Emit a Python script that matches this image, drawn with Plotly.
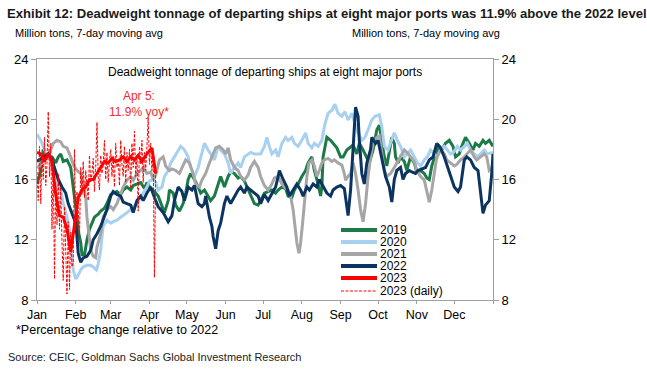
import pandas as pd
import plotly.graph_objects as go

# ---------------- data ----------------
days_2019 = [0, 3, 5, 8, 12, 15, 17, 19, 21, 24, 27, 28, 29, 31, 32, 33, 35, 36, 38, 40, 42, 46, 49, 51, 54, 56, 59, 61, 64, 67, 69, 72, 75, 77, 80, 83, 86, 88, 91, 94, 97, 99, 102, 105, 106, 109, 111, 114, 117, 119, 121, 123, 126, 129, 131, 134, 137, 139, 142, 145, 147, 150, 153, 155, 158, 161, 163, 166, 169, 171, 174, 177, 179, 182, 185, 188, 191, 193, 196, 199, 201, 204, 206, 209, 212, 215, 217, 220, 222, 225, 227, 228, 229, 231, 232, 235, 237, 240, 243, 245, 248, 251, 253, 256, 258, 261, 264, 266, 269, 272, 274, 276, 278, 280, 282, 284, 286, 287, 289, 291, 294, 296, 299, 302, 304, 307, 310, 312, 314, 316, 319, 322, 324, 327, 330, 333, 335, 338, 340, 343, 346, 349, 351, 354, 357, 359, 362, 365]
tons_2019 = [15.7, 16.6, 18.0, 17.5, 17.5, 17.1, 17.5, 17.7, 17.2, 17.3, 16.8, 16.2, 15.3, 14.4, 13.5, 12.6, 11.8, 11.0, 11.0, 12.0, 12.7, 13.5, 13.7, 13.9, 14.1, 14.4, 15.0, 15.1, 15.2, 15.0, 15.3, 15.5, 15.3, 15.6, 15.7, 15.8, 15.4, 15.8, 15.4, 15.2, 14.9, 14.4, 13.8, 14.6, 15.3, 15.1, 14.3, 13.9, 14.4, 15.1, 16.0, 16.4, 16.0, 15.5, 15.1, 15.3, 14.9, 14.6, 14.9, 15.7, 16.2, 15.5, 16.2, 16.5, 16.4, 16.1, 16.2, 15.9, 15.3, 14.9, 14.4, 14.3, 14.6, 15.1, 15.2, 15.3, 15.1, 15.3, 15.5, 15.4, 14.9, 14.8, 15.3, 15.7, 16.2, 16.6, 17.1, 17.5, 16.6, 15.7, 14.9, 15.5, 17.5, 18.4, 18.8, 18.6, 18.4, 18.1, 17.5, 17.5, 17.96, 18.2, 18.3, 17.7, 18.4, 17.96, 17.5, 17.1, 17.96, 19.3, 19.6, 18.6, 17.5, 16.9, 18.0, 18.8, 18.4, 17.5, 17.1, 17.5, 17.2, 16.6, 17.5, 17.1, 16.5, 16.6, 16.4, 16.1, 16.0, 16.9, 17.7, 18.2, 17.96, 18.4, 18.6, 18.2, 17.5, 17.7, 18.2, 18.8, 18.4, 17.96, 18.4, 18.2, 18.6, 18.4, 18.6, 18.2]

days_2020 = [0, 3, 5, 8, 11, 13, 16, 19, 21, 24, 27, 28, 29, 31, 32, 35, 37, 40, 43, 45, 47.5, 49, 51, 52, 53, 56, 59, 61, 64, 67, 69, 72, 75, 77, 80, 83, 85, 88, 90, 93, 95, 97, 100, 102, 105, 107, 110, 113, 115, 118, 121, 123, 126, 129, 131, 134, 137, 139, 142, 145, 147, 150, 153, 155, 158, 161, 163, 166, 169, 171, 174, 177, 179, 182, 184, 186, 188, 191, 193, 196, 199, 201, 204, 206, 209, 212, 215, 217, 220, 222, 225, 228, 230.5, 233, 236, 238.5, 241, 244, 246.5, 249, 252, 254.5, 257, 260, 262.5, 265, 268, 270.5, 274, 276, 278, 281, 283, 286, 288.5, 291, 294, 296.5, 299, 302, 304.5, 307, 310, 312.5, 315, 318, 320.5, 323, 326, 328.5, 331, 333.5, 336.5, 339, 342, 344.5, 347, 350, 352.5, 355, 358, 360.5, 365]
tons_2020 = [19.0, 18.6, 18.2, 17.5, 17.3, 16.6, 16.0, 15.3, 14.4, 13.5, 12.2, 11.1, 10.0, 9.4, 9.5, 10.0, 10.2, 10.3, 10.3, 10.2, 10.0, 10.4, 11.3, 12.2, 12.9, 13.3, 13.1, 13.2, 13.3, 13.5, 13.6, 13.8, 14.0, 14.2, 14.4, 14.8, 15.1, 15.5, 15.9, 16.0, 15.8, 15.3, 15.5, 16.2, 16.6, 17.1, 17.5, 17.96, 18.2, 17.96, 17.5, 16.8, 16.2, 16.8, 17.5, 18.4, 17.96, 17.7, 17.3, 18.2, 17.96, 17.7, 17.1, 16.4, 16.8, 17.1, 16.8, 17.5, 17.7, 17.8, 17.7, 17.7, 17.7, 18.2, 18.8, 18.2, 17.7, 17.96, 17.5, 18.4, 18.8, 18.6, 18.8, 18.4, 18.2, 18.6, 19.1, 18.4, 18.1, 18.4, 18.2, 18.6, 19.7, 20.4, 20.6, 21.0, 20.4, 20.2, 20.5, 19.95, 20.4, 19.7, 19.1, 18.6, 18.8, 19.3, 19.95, 20.2, 20.3, 19.5, 18.2, 17.96, 18.4, 19.1, 18.6, 18.2, 17.5, 17.7, 17.96, 17.5, 17.1, 16.9, 17.3, 17.5, 17.96, 17.7, 17.5, 17.96, 18.2, 17.96, 17.7, 17.8, 18.2, 17.96, 18.2, 18.4, 17.96, 17.7, 17.5, 17.7, 17.96, 17.7, 17.8]

days_2021 = [0, 3, 5, 8, 11, 13, 16, 19, 21, 24, 27, 29, 32, 35, 37, 39, 40, 42, 43, 45, 47, 48, 51, 53, 56, 59, 61, 64, 67, 69, 72, 75, 77, 80, 83, 85, 88, 91, 93, 95, 98, 101, 103, 106, 108, 111, 114, 116, 119, 122, 125, 127, 130, 132, 135, 138, 141, 143, 146, 149, 151, 153, 155, 158, 161, 163, 166, 169, 171, 174, 177, 179, 182, 185, 188, 190, 193, 196, 198, 201, 203, 205, 206.5, 208, 209.7, 211, 212.6, 214, 216, 217.7, 220, 222, 224, 226, 228, 230, 233, 236, 238, 241, 244, 246, 247, 249, 251, 253, 255, 257, 259, 261, 263, 265, 267, 269, 272, 274, 276, 278, 280, 283, 286, 288, 291, 294, 296, 299, 302, 304, 307, 310, 312, 314, 316, 318, 320, 323, 326, 328, 331, 334, 336, 339, 342, 344, 347, 350, 352, 355, 358, 360, 362, 365]
tons_2021 = [16.8, 16.9, 17.3, 17.5, 17.96, 18.4, 18.6, 18.5, 18.2, 18.1, 17.5, 17.0, 16.6, 16.4, 15.7, 14.8, 13.5, 12.2, 11.3, 10.9, 10.8, 11.5, 12.4, 13.5, 14.0, 14.2, 14.0, 14.4, 15.1, 15.5, 15.96, 16.2, 15.96, 16.4, 16.6, 16.8, 16.4, 16.5, 16.0, 16.3, 17.3, 17.5, 16.9, 16.6, 16.7, 16.6, 16.4, 16.8, 17.3, 17.1, 16.4, 15.7, 15.5, 15.96, 16.4, 17.1, 17.7, 18.1, 18.2, 17.96, 17.7, 18.1, 17.3, 16.8, 16.6, 16.2, 15.96, 16.3, 16.8, 17.2, 16.8, 16.2, 15.6, 15.3, 15.7, 16.1, 16.2, 15.7, 15.5, 15.3, 14.9, 14.0, 12.9, 11.8, 11.1, 11.8, 13.1, 14.6, 16.2, 17.1, 17.3, 16.9, 16.2, 16.6, 17.1, 17.3, 17.4, 17.2, 17.3, 17.1, 16.96, 16.4, 15.96, 16.2, 16.4, 17.1, 16.4, 15.3, 14.0, 13.2, 14.4, 16.2, 17.5, 18.4, 18.8, 18.9, 17.7, 16.6, 16.2, 16.4, 16.8, 17.1, 17.5, 17.96, 17.8, 17.5, 17.2, 16.6, 16.2, 15.96, 15.3, 14.5, 15.3, 16.4, 17.5, 17.96, 17.7, 17.3, 17.1, 16.9, 17.0, 17.3, 17.5, 17.7, 17.96, 17.5, 17.3, 17.5, 17.7, 17.5, 16.6, 16.8]

days_2022 = [0, 5, 9, 12, 15, 17, 20, 23, 25, 28, 31, 32, 33, 35, 37, 40, 43, 45, 48, 51, 53, 56, 59, 61, 64, 67, 69, 72, 75, 77, 80, 83, 85, 88, 91, 94, 97, 101, 105, 108, 110, 113, 116, 118, 121, 124, 126, 129, 132, 134, 135, 138, 140, 141, 143, 145, 147, 150, 152, 155, 158, 161, 163, 166, 168, 171, 174, 177, 179, 182, 185, 188, 191, 193, 194, 197, 200, 202, 205, 208, 211, 213, 216, 218, 221, 224, 226, 229, 232, 235, 237, 240, 243, 246, 248, 249, 251, 253, 255, 257, 258, 260, 262, 264, 267, 268, 271, 273, 276, 279, 282, 284, 286, 288, 291, 293, 295, 298, 300, 303, 305, 308, 311, 314, 317, 320, 323, 326, 329, 331, 334, 337, 339, 342, 344, 347, 350, 353, 355, 357, 359, 362, 364, 365]
tons_2022 = [17.2, 17.5, 17.7, 17.3, 16.6, 16.0, 15.5, 15.1, 14.4, 13.8, 13.1, 12.2, 11.1, 10.5, 10.8, 10.9, 11.3, 12.0, 12.4, 12.9, 13.3, 14.0, 14.9, 15.2, 15.0, 14.9, 14.5, 14.4, 14.3, 13.8, 14.6, 14.9, 14.6, 15.1, 15.5, 14.8, 14.2, 13.8, 13.2, 13.6, 14.6, 15.5, 15.2, 14.6, 15.5, 15.3, 15.6, 14.4, 14.2, 14.4, 14.9, 13.5, 12.9, 12.2, 11.4, 12.6, 13.1, 14.4, 14.9, 14.4, 14.9, 15.3, 15.5, 15.1, 15.5, 15.3, 15.1, 14.9, 14.4, 15.0, 14.6, 15.1, 15.5, 16.2, 16.6, 16.0, 15.5, 14.9, 15.3, 15.7, 15.3, 14.9, 15.5, 15.3, 15.7, 15.5, 16.0, 15.5, 15.1, 14.9, 15.3, 15.5, 15.6, 15.4, 14.2, 13.6, 15.3, 17.96, 20.8, 20.2, 18.6, 16.4, 15.7, 17.1, 18.0, 18.8, 18.4, 18.6, 17.5, 16.2, 15.5, 14.5, 16.0, 16.6, 16.8, 16.0, 16.4, 16.6, 16.5, 16.4, 16.6, 16.7, 16.8, 17.3, 17.5, 18.4, 18.1, 17.5, 16.8, 16.2, 15.5, 15.2, 15.5, 17.3, 17.5, 17.3, 16.8, 16.6, 15.3, 13.75, 14.3, 14.6, 16.4, 17.7]

days_2023 = [0, 3, 6, 9, 12, 15, 18, 21, 24, 27, 30, 33, 36, 39, 42, 45, 48, 51, 54, 57, 60, 63, 66, 69, 72, 75, 78, 81, 84, 87, 90, 92, 95]
tons_2023 = [17.8, 17.7, 17.2, 17.7, 17.2, 15.0, 13.6, 13.5, 12.7, 11.2, 13.0, 14.8, 15.3, 15.5, 16.0, 16.0, 16.4, 16.8, 17.2, 17.1, 17.4, 17.2, 17.3, 17.5, 17.2, 17.5, 17.3, 17.6, 17.2, 17.6, 17.9, 18.1, 16.4]

days_2023_daily = list(range(96))
tons_2023_daily = [16.5, 14.6, 18.2, 14.4, 17.6, 16.0, 18.8, 15.6, 17.0, 20.5, 16.2, 18.4, 12.7, 17.5, 9.4, 15.8, 13.0, 16.4, 12.7, 15.5, 11.8, 9.3, 14.2, 11.0, 8.4, 13.2, 8.7, 12.5, 10.2, 10.5, 18.0, 12.6, 15.2, 14.0, 12.0, 16.8, 15.0, 17.2, 14.8, 16.6, 15.4, 14.6, 17.6, 15.8, 16.4, 17.4, 15.2, 16.8, 19.8, 16.2, 15.3, 17.6, 16.4, 17.0, 18.6, 16.0, 17.8, 15.8, 17.2, 18.0, 16.2, 17.6, 15.5, 18.4, 16.8, 17.4, 15.6, 18.6, 17.0, 16.2, 18.2, 15.8, 17.8, 16.6, 18.0, 15.4, 18.4, 16.8, 19.2, 16.2, 17.6, 13.9, 18.2, 17.0, 18.6, 15.8, 17.8, 16.6, 18.2, 20.1, 17.0, 18.4, 16.6, 17.8, 9.5, 16.8]

month_labels = ["Jan", "Feb", "Mar", "Apr", "May", "Jun", "Jul", "Aug", "Sep", "Oct", "Nov", "Dec", ""]
y_ticks = [8, 12, 16, 20, 24]
series_names = ["2019", "2020", "2021", "2022", "2023", "2023 (daily)"]

# ---------------- styling ----------------
C_2019 = "#1b7a47"
C_2020 = "#a8d0f0"
C_2021 = "#a6a6a6"
C_2022 = "#0c3461"
C_2023 = "#ff0000"
AXIS = "#a0a0a0"
REG = "Liberation Sans, Arial, sans-serif"

base = pd.Timestamp("2023-01-01")


def to_dates(days):
    return [base + pd.Timedelta(days=float(d)) for d in days]


fig = go.Figure()
for days, vals, col in [(days_2019, tons_2019, C_2019), (days_2020, tons_2020, C_2020),
                        (days_2021, tons_2021, C_2021), (days_2022, tons_2022, C_2022)]:
    fig.add_trace(go.Scatter(x=to_dates(days), y=vals, mode="lines",
                             line=dict(color=col, width=3), showlegend=False, hoverinfo="skip"))
fig.add_trace(go.Scatter(x=to_dates(days_2023_daily), y=tons_2023_daily, mode="lines",
                         line=dict(color=C_2023, width=1, dash="3px,1.5px"), showlegend=False, hoverinfo="skip"))
fig.add_trace(go.Scatter(x=to_dates(days_2023), y=tons_2023, mode="lines",
                         line=dict(color=C_2023, width=3), showlegend=False, hoverinfo="skip"))
# right-hand axis carrier
fig.add_trace(go.Scatter(x=[], y=[], yaxis="y2", showlegend=False, hoverinfo="skip"))

month_starts = [base + pd.DateOffset(months=i) for i in range(13)]

L, R, T, B = 37, 493, 59, 300


def ax(px):
    return (px - L) / (R - L)


def ay(py):
    return (B - py) / (B - T)


yax = dict(range=[8, 24], tickvals=y_ticks, ticks="outside", ticklen=5, tickcolor=AXIS,
           showline=True, linecolor=AXIS, linewidth=1, showgrid=False, zeroline=False,
           tickfont=dict(family=REG, size=13, color="#000"), fixedrange=True)

fig.update_layout(
    width=647, height=372,
    margin=dict(l=L, r=647 - R, t=T, b=372 - B),
    paper_bgcolor="white", plot_bgcolor="white",
    showlegend=False,
    xaxis=dict(type="date", range=[base, base + pd.DateOffset(years=1)],
               tickvals=month_starts, ticktext=month_labels,
               ticks="outside", ticklen=3, tickcolor=AXIS,
               showline=True, linecolor=AXIS, linewidth=1, mirror=True,
               showgrid=False, zeroline=False,
               tickfont=dict(family=REG, size=12.5, color="#000")),
    yaxis=yax,
    yaxis2=dict(yax, overlaying="y", side="right"),
)

ann = []
ann.append(dict(x=ax(5), y=ay(13), text="<b>Exhibit 12: Deadweight tonnage of departing ships at eight major ports was 11.9% above the 2022 level</b>",
                font=dict(family=REG, size=13.1, color="#1a1a1a")))
ann.append(dict(x=ax(13), y=ay(33), text="Million tons, 7-day moving avg",
                font=dict(family=REG, size=11, color="#000")))
ann.append(dict(x=ax(350), y=ay(33), text="Million tons, 7-day moving avg",
                font=dict(family=REG, size=11, color="#000")))
ann.append(dict(x=ax(265), y=ay(72), text="Deadweight tonnage of departing ships at eight major ports",
                xanchor="center", font=dict(family=REG, size=12, color="#000")))
ann.append(dict(x=ax(139), y=ay(104), text="Apr 5:<br>11.9% yoy*", xanchor="center",
                font=dict(family=REG, size=12, color="#f22c2c")))
ann.append(dict(x=ax(14), y=ay(330), text="*Percentage change relative to 2022",
                font=dict(family=REG, size=12.5, color="#000")))
ann.append(dict(x=ax(6), y=ay(357), text="Source: CEIC, Goldman Sachs Global Investment Research",
                font=dict(family=REG, size=11, color="#222")))

shapes = []
leg_cols = [C_2019, C_2020, C_2021, C_2022, C_2023, C_2023]
leg_rows = [230, 242, 254, 266, 278, 291]
for i, (name, col, py) in enumerate(zip(series_names, leg_cols, leg_rows)):
    daily = i == 5
    shapes.append(dict(type="line", xref="paper", yref="paper", x0=ax(341), x1=ax(377), y0=ay(py), y1=ay(py),
                       line=dict(color=col, width=1 if daily else 4, dash="3px,1.5px" if daily else "solid")))
    ann.append(dict(x=ax(378), y=ay(py), text=name, font=dict(family=REG, size=12, color="#000")))

for a in ann:
    a.setdefault("xref", "paper")
    a.setdefault("yref", "paper")
    a.setdefault("xanchor", "left")
    a.setdefault("yanchor", "middle")
    a["showarrow"] = False

fig.update_layout(annotations=ann, shapes=shapes)
fig.write_html("out.html", config={"displayModeBar": False},
               post_script="document.body.style.margin='0px';document.body.style.padding='0px';")
